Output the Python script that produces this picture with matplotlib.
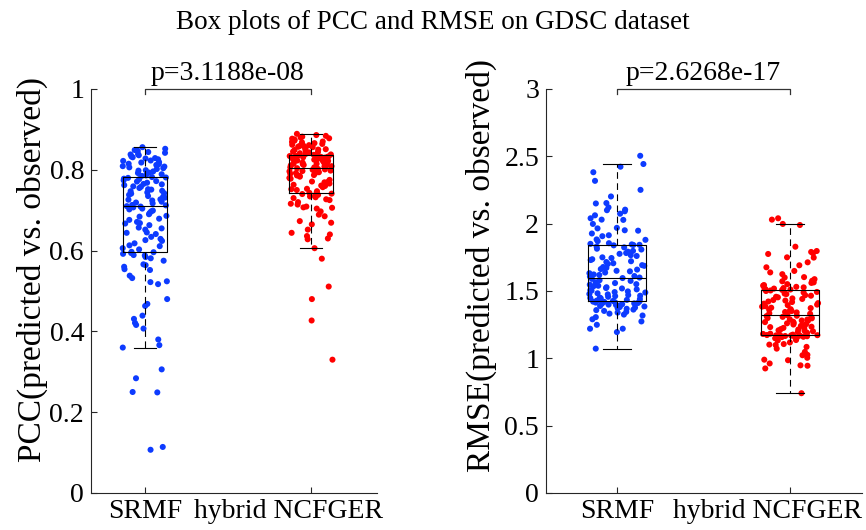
import numpy as np
import matplotlib
matplotlib.use('Agg')
import matplotlib.pyplot as plt
import matplotlib.transforms as mtrans

plt.rcParams['font.family'] = ['Liberation Serif', 'DejaVu Serif']

methods = ['SRMF', 'hybrid NCFGER']
title = 'Box plots of PCC and RMSE on GDSC dataset'

# per-drug PCC
pcc_srmf = [0.107, 0.114, 0.249, 0.250, 0.284, 0.306, 0.360, 0.366, 0.380, 0.407,
            0.416, 0.421, 0.431, 0.439, 0.463, 0.468, 0.480, 0.517, 0.522, 0.524,
            0.532, 0.538, 0.552, 0.554, 0.560, 0.564, 0.566, 0.575, 0.581, 0.584,
            0.588, 0.589, 0.592, 0.594,
            0.596, 0.597, 0.603, 0.606, 0.611, 0.613, 0.618, 0.624, 0.626, 0.629,
            0.634, 0.641, 0.644, 0.645, 0.652, 0.655, 0.657, 0.663, 0.667, 0.668,
            0.671, 0.676, 0.679, 0.684, 0.686, 0.690, 0.693, 0.697, 0.699, 0.702,
            0.704, 0.707, 0.709, 0.710,
            0.712, 0.713, 0.717, 0.719, 0.721, 0.724, 0.726, 0.727, 0.731, 0.733,
            0.735, 0.738, 0.741, 0.742, 0.744, 0.747, 0.748, 0.751, 0.752, 0.755,
            0.758, 0.759, 0.762, 0.764, 0.765, 0.768, 0.771, 0.772, 0.774, 0.777,
            0.778, 0.780, 0.781, 0.782,
            0.785, 0.786, 0.789, 0.792, 0.793, 0.796, 0.798, 0.799, 0.802, 0.804,
            0.806, 0.808, 0.809, 0.812, 0.814, 0.815, 0.818, 0.819, 0.822, 0.823,
            0.826, 0.828, 0.829, 0.831, 0.833, 0.836, 0.838, 0.839, 0.842, 0.844,
            0.847, 0.849, 0.852, 0.856]
pcc_ncfger = [0.330, 0.427, 0.480, 0.511, 0.580, 0.606, 0.628, 0.630, 0.636, 0.640,
              0.644, 0.652, 0.665, 0.669, 0.673, 0.685, 0.689, 0.697, 0.704, 0.706,
              0.707, 0.709, 0.714, 0.716, 0.720, 0.725, 0.727, 0.730, 0.732, 0.734,
              0.736, 0.738, 0.740, 0.741,
              0.743, 0.744, 0.747, 0.750, 0.752, 0.753, 0.757, 0.760, 0.761, 0.763,
              0.766, 0.769, 0.770, 0.771, 0.775, 0.778, 0.779, 0.780, 0.783, 0.785,
              0.786, 0.787, 0.790, 0.791, 0.792, 0.794, 0.796, 0.797, 0.798, 0.800,
              0.801, 0.802, 0.803, 0.804,
              0.806, 0.806, 0.808, 0.809, 0.811, 0.811, 0.812, 0.814, 0.815, 0.815,
              0.817, 0.818, 0.818, 0.819, 0.821, 0.822, 0.822, 0.823, 0.825, 0.826,
              0.826, 0.827, 0.828, 0.829, 0.829, 0.830, 0.831, 0.832, 0.832, 0.833,
              0.834, 0.834, 0.835, 0.835,
              0.837, 0.838, 0.839, 0.841, 0.843, 0.844, 0.845, 0.847, 0.849, 0.850,
              0.851, 0.852, 0.854, 0.856, 0.857, 0.859, 0.860, 0.861, 0.862, 0.864,
              0.866, 0.868, 0.869, 0.870, 0.872, 0.874, 0.875, 0.877, 0.878, 0.880,
              0.882, 0.884, 0.886, 0.889]

# per-drug RMSE
rmse_srmf = [1.072, 1.195, 1.220, 1.220, 1.249, 1.274, 1.290, 1.306, 1.318, 1.325,
             1.332, 1.340, 1.345, 1.352, 1.358, 1.362, 1.368, 1.372, 1.377, 1.381,
             1.385, 1.389, 1.393, 1.396, 1.399, 1.402, 1.405, 1.408, 1.411, 1.414,
             1.416, 1.419, 1.421, 1.423,
             1.426, 1.429, 1.434, 1.436, 1.440, 1.445, 1.448, 1.451, 1.457, 1.462,
             1.465, 1.470, 1.475, 1.478, 1.483, 1.489, 1.492, 1.497, 1.503, 1.506,
             1.512, 1.519, 1.522, 1.528, 1.535, 1.539, 1.547, 1.551, 1.559, 1.565,
             1.575, 1.580, 1.590, 1.596,
             1.600, 1.607, 1.611, 1.619, 1.623, 1.632, 1.637, 1.646, 1.650, 1.659,
             1.663, 1.672, 1.678, 1.687, 1.692, 1.701, 1.706, 1.715, 1.721, 1.730,
             1.736, 1.745, 1.750, 1.760, 1.766, 1.776, 1.782, 1.792, 1.798, 1.808,
             1.814, 1.824, 1.830, 1.839,
             1.842, 1.843, 1.846, 1.850, 1.855, 1.870, 1.880, 1.883, 1.907, 1.914,
             1.927, 1.948, 1.951, 1.965, 1.969, 1.998, 2.028, 2.030, 2.040, 2.062,
             2.074, 2.092, 2.100, 2.104, 2.121, 2.150, 2.153, 2.202, 2.251, 2.318,
             2.382, 2.423, 2.443, 2.504]
rmse_ncfger = [0.741, 0.925, 0.945, 0.948, 0.962, 0.986, 0.990, 1.004, 1.023, 1.026,
               1.048, 1.072, 1.085, 1.099, 1.102, 1.106, 1.118, 1.133, 1.136, 1.142,
               1.149, 1.155, 1.158, 1.160, 1.162, 1.164, 1.166, 1.167, 1.169, 1.170,
               1.171, 1.172, 1.173, 1.174,
               1.176, 1.181, 1.183, 1.189, 1.192, 1.195, 1.201, 1.204, 1.208, 1.214,
               1.217, 1.223, 1.226, 1.232, 1.235, 1.241, 1.244, 1.251, 1.254, 1.260,
               1.263, 1.269, 1.272, 1.279, 1.281, 1.288, 1.290, 1.297, 1.299, 1.306,
               1.308, 1.314, 1.316, 1.321,
               1.325, 1.331, 1.334, 1.341, 1.344, 1.351, 1.355, 1.362, 1.365, 1.373,
               1.376, 1.384, 1.387, 1.395, 1.399, 1.406, 1.410, 1.418, 1.422, 1.429,
               1.433, 1.441, 1.445, 1.453, 1.457, 1.465, 1.469, 1.477, 1.481, 1.489,
               1.493, 1.500, 1.504, 1.508,
               1.511, 1.513, 1.516, 1.518, 1.522, 1.527, 1.531, 1.540, 1.544, 1.551,
               1.560, 1.564, 1.572, 1.576, 1.588, 1.600, 1.603, 1.625, 1.638, 1.649,
               1.676, 1.691, 1.713, 1.748, 1.750, 1.775, 1.780, 1.790, 1.797, 1.829,
               1.990, 1.998, 2.030, 2.040]

p_pcc = 'p=3.1188e-08'
p_rmse = 'p=2.6268e-17'

blue = '#0d3bff'
red = '#ff0000'


def panel(ax, groups, width, jit, ylim, yticks, ytick_labels, ylabel, ptext, seed):
    rng = np.random.default_rng(seed)
    for i, (vals, col) in enumerate(zip(groups, [blue, red])):
        xs = (i + 1) + rng.uniform(-jit, jit, len(vals))
        ax.scatter(xs, vals, s=19, color=col, edgecolors='none', zorder=2)

    line = dict(color='k', lw=0.8)
    ax.boxplot(groups, positions=[1, 2], widths=width, whis=1.5, showfliers=False,
               boxprops=line, medianprops=line, capprops=line,
               whiskerprops=dict(color='k', lw=0.8, linestyle=(0, (6, 4))),
               zorder=3)

    ax.set_ylim(ylim)
    ax.set_yticks(yticks)
    ax.set_yticklabels(ytick_labels)
    ax.set_xticks([1, 2])
    ax.set_xticklabels(methods)
    for sp in ['top', 'right']:
        ax.spines[sp].set_visible(False)
    for sp in ['left', 'bottom']:
        ax.spines[sp].set_color('#262626')
        ax.spines[sp].set_linewidth(0.8)
    ax.tick_params(direction='in', length=4, width=0.8, color='#262626',
                   labelsize=20, labelcolor='k')
    ax.tick_params(axis='y', pad=5)
    ax.tick_params(axis='x', pad=4)

    # second label sits a bit left of its tick in the original
    shift = mtrans.ScaledTranslation(-0.22, 0, ax.figure.dpi_scale_trans)
    lab = ax.get_xticklabels()[1]
    lab.set_transform(lab.get_transform() + shift)

    ax.set_ylabel(ylabel, fontsize=24, va='center')

    # significance bracket
    top = ylim[1]
    drop = (ylim[1] - ylim[0]) * 0.012
    ax.plot([1, 1, 2, 2], [top - drop, top, top, top - drop], color='#333333',
            lw=0.9, clip_on=False)
    ax.annotate(ptext, xy=(1.5, top), xytext=(0, 2), textcoords='offset points',
                ha='center', va='bottom', fontsize=20, annotation_clip=False)


fig = plt.figure(figsize=(8.66, 5.3), dpi=100)
ax1 = fig.add_axes([91 / 866, 37 / 530, 286 / 866, 404 / 530])
ax2 = fig.add_axes([546 / 866, 37 / 530, 316 / 866, 404 / 530])

panel(ax1, [pcc_srmf, pcc_ncfger], 0.26, 0.135, (0, 1),
      [0, 0.2, 0.4, 0.6, 0.8, 1], ['0', '0.2', '0.4', '0.6', '0.8', '1'],
      'PCC(predicted vs. observed)', p_pcc, 7)
panel(ax2, [rmse_srmf, rmse_ncfger], 0.33, 0.165, (0, 3),
      [0, 0.5, 1, 1.5, 2, 2.5, 3], ['0', '0.5', '1', '1.5', '2', '2.5', '3'],
      'RMSE(predicted vs. observed)', p_rmse, 11)

ax1.set_xlim(0.675, 2.398)
ax2.set_xlim(0.590, 2.416)
ax1.yaxis.set_label_coords(-0.206, 0.552)
ax2.yaxis.set_label_coords(-0.206, 0.563)

fig.suptitle(title, x=0.5, y=0.958, va='center', fontsize=19.5)

fig.savefig('out.png', dpi=100)
